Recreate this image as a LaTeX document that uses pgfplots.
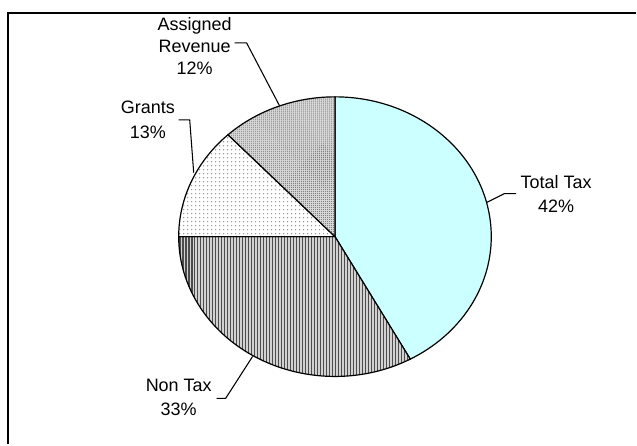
\documentclass[border=0pt]{standalone}
\usepackage{pgfplots}
\pgfplotsset{compat=1.18}
\usepackage{pgfplotstable}
\usetikzlibrary{patterns.meta}
\usepackage{fontspec}
\setmainfont{Liberation Sans}

\definecolor{taxcyan}{HTML}{CCFFFF}

\pgfplotstableread{
label value
TotalTax 42
NonTax 33
Grants 13
Assigned 12
}\piedata

\begin{document}
\begin{tikzpicture}[font=\fontsize{13.5}{18.5}\selectfont]
% slice boundaries (degrees, clockwise from 12 o'clock)
\pgfplotstablegetelem{0}{value}\of\piedata \let\vA\pgfplotsretval
\pgfplotstablegetelem{1}{value}\of\piedata \let\vB\pgfplotsretval
\pgfplotstablegetelem{2}{value}\of\piedata \let\vC\pgfplotsretval
\pgfplotstablegetelem{3}{value}\of\piedata \let\vD\pgfplotsretval
\pgfmathsetmacro\aA{90}
\pgfmathsetmacro\aB{\aA-3.6*\vA}
\pgfmathsetmacro\aC{\aB-3.6*\vB}
\pgfmathsetmacro\aD{\aC-3.6*\vC}
\pgfmathsetmacro\aE{\aD-3.6*\vD}
\begin{axis}[
    scale only axis,
    width=477.75pt, height=333.75pt,
    xmin=0, xmax=637, ymin=0, ymax=445,
    axis lines=none,
    clip=false
]
\path (axis cs:0,0) rectangle (axis cs:637,445);
% frame
\draw[line width=1.5pt] (axis cs:8,0) -- (axis cs:8,432) -- (axis cs:637,432);

% slices
\filldraw[fill=taxcyan, line width=0.9pt]
  (axis cs:335.5,208) -- +(\aA:117.4pt and 105pt)
  arc[start angle=\aA, end angle=\aB, x radius=117.4pt, y radius=105pt] -- cycle;
\filldraw[preaction={fill=gray!35}, pattern={Lines[angle=90,distance=2.25pt,line width=1.2pt]}, pattern color=black!70, line width=0.9pt]
  (axis cs:335.5,208) -- +(\aB:117.4pt and 105pt)
  arc[start angle=\aB, end angle=\aC, x radius=117.4pt, y radius=105pt] -- cycle;
\filldraw[preaction={fill=white}, pattern={Dots[distance=3pt,radius=0.55pt]}, pattern color=gray!85, line width=0.9pt]
  (axis cs:335.5,208) -- +(\aC:117.4pt and 105pt)
  arc[start angle=\aC, end angle=\aD, x radius=117.4pt, y radius=105pt] -- cycle;
\filldraw[preaction={fill=gray!30}, pattern={Dots[distance=1.5pt,radius=0.4pt]}, pattern color=gray!85!black, line width=0.9pt]
  (axis cs:335.5,208) -- +(\aD:117.4pt and 105pt)
  arc[start angle=\aD, end angle=\aE, x radius=117.4pt, y radius=105pt] -- cycle;

% leader lines
\draw[line width=0.8pt] (axis cs:235,402) -- (axis cs:247,402) -- (axis cs:280,339);
\draw[line width=0.8pt] (axis cs:179,325) -- (axis cs:190,325) -- (axis cs:194,272);
\draw[line width=0.8pt] (axis cs:487,242) -- (axis cs:505,251) -- (axis cs:517,251);
\draw[line width=0.8pt] (axis cs:253,88) -- (axis cs:226,46) -- (axis cs:217,46);

% labels
\node[align=center, font=\fontsize{13.5}{16.5}\selectfont] at (axis cs:195,399) {Assigned\\Revenue\\12\%};
\node[align=center] at (axis cs:148,325) {Grants\\13\%};
\node[align=center] at (axis cs:557,250.5) {Total Tax\\42\%};
\node[align=center] at (axis cs:179,47) {Non Tax\\33\%};
\end{axis}
\end{tikzpicture}
\end{document}
